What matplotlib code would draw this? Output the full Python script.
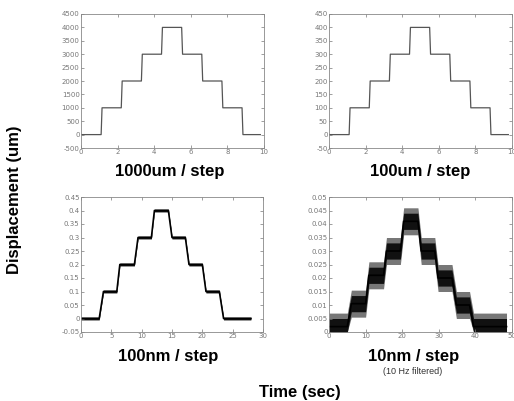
import numpy as np
import matplotlib.pyplot as plt

# staircase breakpoints
t_top = [0, 1.1, 1.15, 2.2, 2.25, 3.3, 3.35, 4.4, 4.45, 5.5, 5.55, 6.6, 6.65, 7.7, 7.75, 8.8, 8.85, 9.8]
y_1000um = [0, 0, 1000, 1000, 2000, 2000, 3000, 3000, 4000, 4000, 3000, 3000, 2000, 2000, 1000, 1000, 0, 0]
y_100um = [0, 0, 100, 100, 200, 200, 300, 300, 400, 400, 300, 300, 200, 200, 100, 100, 0, 0]

t_100nm = [0, 3.0, 3.7, 5.9, 6.4, 8.8, 9.4, 11.6, 12.1, 14.4, 15.0, 17.2, 17.8, 20.0, 20.6, 22.8, 23.5, 28.0]
y_100nm = [0, 0, 0.1, 0.1, 0.2, 0.2, 0.3, 0.3, 0.4, 0.4, 0.3, 0.3, 0.2, 0.2, 0.1, 0.1, 0, 0]
noise_100nm = 0.004   # typical half-width of the noise band
peak_100nm = 0.007    # occasional spikes

t_10nm = [0, 5.0, 6.1, 10.0, 10.9, 14.9, 15.7, 19.5, 20.4, 24.3, 25.2, 28.9, 29.8, 33.6, 34.8, 38.4, 39.5, 48.5]
y_10nm = [0.002, 0.002, 0.0105, 0.0105, 0.021, 0.021, 0.030, 0.030, 0.041, 0.041, 0.030, 0.030, 0.020, 0.020, 0.010, 0.010, 0.002, 0.002]
noise_10nm = 0.003
peak_10nm = 0.005

W, H = 514, 401
fig = plt.figure(figsize=(W / 100, H / 100), dpi=100)

def box(l, t, r, b):
    return [l / W, 1 - b / H, (r - l) / W, (b - t) / H]

def style(ax, xt, yt):
    ax.set_xticks(xt)
    ax.set_yticks(yt)
    ax.set_xticklabels(['%g' % v for v in xt])
    ax.set_yticklabels(['%g' % v for v in yt])
    ax.set_xlim(xt[0], xt[-1])
    ax.set_ylim(yt[0], yt[-1])
    ax.tick_params(direction='in', length=2, width=0.5, colors='#777777',
                   labelsize=5, pad=1, top=True, right=True)
    for s in ax.spines.values():
        s.set_color('#888888')
        s.set_linewidth(0.6)

ax1 = fig.add_axes(box(81, 14, 264, 148))
ax1.plot(t_top, y_1000um, c='#555555', lw=0.9)
style(ax1, np.arange(0, 11, 2), np.arange(-500, 4501, 500))

ax2 = fig.add_axes(box(329, 14, 512, 148))
ax2.plot(t_top, y_100um, c='#555555', lw=0.9)
style(ax2, np.arange(0, 11, 2), np.arange(-50, 451, 50))

ax3 = fig.add_axes(box(81, 197, 263, 332))
y3 = np.array(y_100nm)
ax3.fill_between(t_100nm, y3 - peak_100nm, y3 + peak_100nm, color='#999999', lw=0)
ax3.fill_between(t_100nm, y3 - noise_100nm, y3 + noise_100nm, color='#111111', lw=0)
ax3.plot(t_100nm, y_100nm, c='black', lw=1.2)
style(ax3, np.arange(0, 31, 5), np.round(np.arange(-0.05, 0.451, 0.05), 2))

ax4 = fig.add_axes(box(329, 197, 512, 332))
y4 = np.array(y_10nm)
ax4.fill_between(t_10nm, np.maximum(y4 - peak_10nm, 0), y4 + peak_10nm, color='#777777', lw=0)
ax4.fill_between(t_10nm, np.maximum(y4 - noise_10nm, 0), y4 + noise_10nm, color='#111111', lw=0)
ax4.plot(t_10nm, y_10nm, c='black', lw=1.2)
style(ax4, np.arange(0, 51, 10), np.round(np.arange(0, 0.0501, 0.005), 3))

tfont = dict(fontsize=12, fontweight='bold', ha='center', va='center', family='Liberation Sans')
fig.text(170 / W, 1 - 172 / H, '1000um / step', **tfont)
fig.text(420 / W, 1 - 172 / H, '100um / step', **tfont)
fig.text(168 / W, 1 - 357 / H, '100nm / step', **tfont)
fig.text(414 / W, 1 - 357 / H, '10nm / step', **tfont)
fig.text(413 / W, 1 - 372 / H, '(10 Hz filtered)', fontsize=6.5, color='#333333',
         ha='center', va='center', family='Liberation Sans')
fig.text(300 / W, 1 - 392 / H, 'Time (sec)', **tfont)
fig.text(15 / W, 1 - 200 / H, 'Displacement (um)', rotation=90, **tfont)

plt.savefig('out.png', dpi=100)
